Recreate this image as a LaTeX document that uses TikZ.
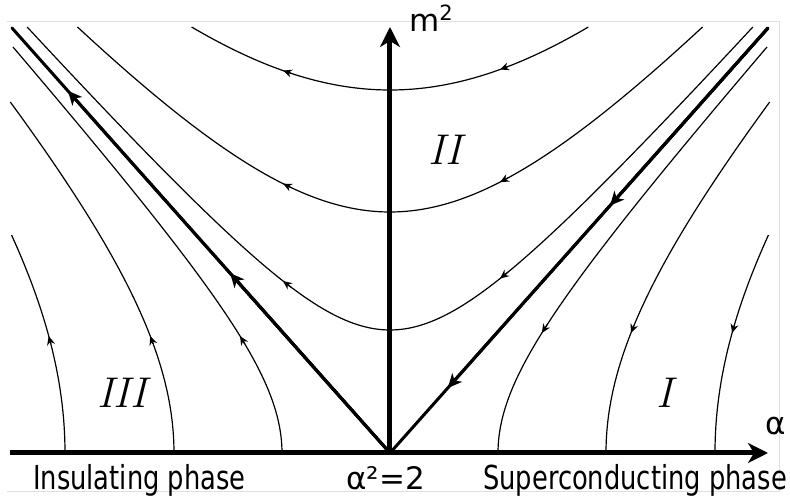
\documentclass[tikz,border=0pt]{standalone}
\usepackage{fontspec}
\newfontfamily\lblfont{DejaVu Sans}
\newfontfamily\lblcond{DejaVu Sans}[FakeStretch=0.78]
\usetikzlibrary{arrows.meta,calc}
\begin{document}
\begin{tikzpicture}[x=10pt,y=10pt,
  flow/.style={line width=1.2pt},
  sepline/.style={line width=3pt},
  axisline/.style={line width=5pt},
  smallhead/.style={-{Stealth[length=9pt,width=8pt,inset=3pt]}},
  sephead/.style={-{Stealth[length=14pt,width=13pt,inset=4pt]}},
  axishead/.style={-{Stealth[length=20pt,width=20pt,inset=6pt]}},
  axlabel/.style={font=\lblfont\fontsize{31}{36}\selectfont, inner sep=0pt},
  phaselabel/.style={font=\lblcond\fontsize{33}{38}\selectfont, inner sep=0pt},
  region/.style={font=\fontsize{43}{50}\selectfont\itshape, inner sep=0pt}
]
\useasboundingbox (-39,-5) rectangle (40,45.3);
% faint frame
\draw[gray!25, line width=0.8pt] (-38.3,43.2) -- (38.9,43.2) -- (38.9,-3.8) -- (-38.3,-3.8);

\coordinate (O) at (0,0);
\coordinate (L) at (-37.8,42.5);
\coordinate (R) at (37.8,42.5);
\coordinate (xstart) at (-38,0);
\coordinate (xend) at (37.8,0);
\coordinate (yend) at (0,42.6);

% region II flow lines
\foreach \a in {36.3,24.1,12.3}{
  \pgfmathsetmacro\xe{sqrt(42.6*42.6-\a*\a)/1.124}
  \draw[flow] plot[domain=-\xe:\xe,samples=81,smooth] (\x,{sqrt(\a*\a+1.2634*\x*\x)});
  \draw[flow,smallhead] (-9.9,{sqrt(\a*\a+1.2634*98.01)}) -- (-10.7,{sqrt(\a*\a+1.2634*114.49)});
  \draw[flow,smallhead] (11.8,{sqrt(\a*\a+1.2634*139.24)}) -- (11.0,{sqrt(\a*\a+1.2634*121)});
}

% region III and I flow lines
\foreach \b/\ytop in {10.8/40.6, 21.6/35.1, 32.5/21.8}{
  \draw[flow] plot[domain=0:\ytop,samples=61,smooth] ({-sqrt(\b*\b+(\x/1.124)^2)},\x);
  \draw[flow] plot[domain=0:\ytop,samples=61,smooth] ({sqrt(\b*\b+(\x/1.124)^2)},\x);
  \draw[flow,smallhead] ({-sqrt(\b*\b+(10.9/1.124)^2)},10.9) -- ({-sqrt(\b*\b+(11.7/1.124)^2)},11.7);
  \draw[flow,smallhead] ({sqrt(\b*\b+(12.8/1.124)^2)},12.8) -- ({sqrt(\b*\b+(12.0/1.124)^2)},12.0);
}

% separatrices
\draw[sepline, line cap=round] (O) -- (L);
\draw[sepline, line cap=round] (O) -- (R);
\draw[sepline, sephead] (O) -- ($(O)!0.852!(L)$);
\draw[sepline, sephead] (O) -- ($(O)!0.423!(L)$);
\draw[sepline, sephead] (R) -- ($(O)!0.582!(R)$);
\draw[sepline, sephead] (R) -- ($(O)!0.153!(R)$);

% axes
\draw[axisline, axishead] (xstart) -- (xend);
\draw[axisline, axishead] (O) -- (yend);

% labels
\node[axlabel, anchor=base west] (mlab) at (1.9,42.1) {m\raisebox{11pt}{\fontsize{21}{21}\selectfont 2}};
\node[axlabel, anchor=base west] (alab) at (37.5,1.8) {α};
\node[axlabel, anchor=base west] (crit) at (-4.4,-3.7) {α²=2};
\node[phaselabel, anchor=base west] (ins) at (-35.7,-3.7) {Insulating phase};
\node[phaselabel, anchor=base west] (sup) at (9.3,-3.7) {Superconducting phase};

\node[region, anchor=base] (r3) at (-26.8,4.5) {III};
\node[region, anchor=base] (r2) at (5.5,28.8) {II};
\node[region, anchor=base] (r1) at (27.5,4.5) {I};
\end{tikzpicture}
\end{document}
